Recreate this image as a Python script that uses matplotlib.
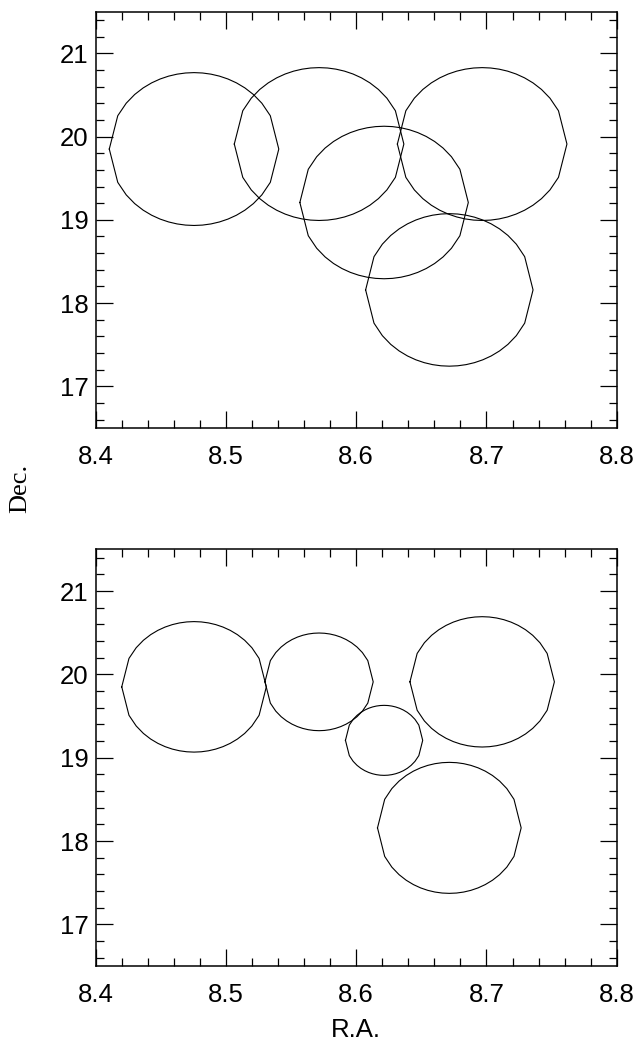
import numpy as np
import matplotlib
matplotlib.use('Agg')
import matplotlib.pyplot as plt
from matplotlib.ticker import MultipleLocator

plt.rcParams['font.family'] = ['Liberation Sans', 'DejaVu Sans']

# field centres (R.A. in hours, Dec. in degrees)
ra_c = [8.4755, 8.5715, 8.6967, 8.6214, 8.6715]
dec_c = [19.85, 19.91, 19.91, 19.208, 18.158]

# circle radii in degrees
r_top = [0.918, 0.918, 0.918, 0.916, 0.916]
r_bot = [0.783, 0.586, 0.782, 0.420, 0.786]

xticks = [8.4, 8.5, 8.6, 8.7, 8.8]
yticks = [17, 18, 19, 20, 21]


def circle(ra0, dec0, r, n=21):
    # sampled evenly along R.A., like the original
    u = np.linspace(-1, 1, n)
    h = np.sqrt(np.clip(1 - u**2, 0, None))
    dx = r / (15 * np.cos(np.radians(dec0)))
    x = np.concatenate([ra0 + u * dx, ra0 + u[::-1] * dx])
    y = np.concatenate([dec0 + r * h, dec0 - r * h[::-1]])
    return x, y


def setup(ax):
    ax.set_xlim(8.4, 8.8)
    ax.set_ylim(16.5, 21.5)
    ax.set_xticks(xticks)
    ax.set_xticklabels([f'{t:.1f}' for t in xticks])
    ax.set_yticks(yticks)
    ax.xaxis.set_minor_locator(MultipleLocator(0.02))
    ax.yaxis.set_minor_locator(MultipleLocator(0.2))
    ax.tick_params(which='both', direction='in', top=True, right=True, width=0.9)
    ax.tick_params(which='major', length=12.5, labelsize=18.5)
    ax.tick_params(which='minor', length=6)
    ax.tick_params(axis='x', pad=12)
    ax.tick_params(axis='y', pad=5)
    for s in ax.spines.values():
        s.set_linewidth(1.1)


fig = plt.figure(figsize=(6.35, 10.42), dpi=100)
ax1 = fig.add_axes([0.1507, 0.5893, 0.8205, 0.3995])
ax2 = fig.add_axes([0.1507, 0.0729, 0.8205, 0.3999])

for ax, radii in [(ax1, r_top), (ax2, r_bot)]:
    for ra0, dec0, r in zip(ra_c, dec_c, radii):
        x, y = circle(ra0, dec0, r)
        ax.plot(x, y, color='black', lw=0.8)
    setup(ax)

fig.text(0.032, 0.531, 'Dec.', rotation=90, ha='center', va='center',
         fontsize=19, family=['Liberation Serif', 'DejaVu Serif'])
ax2.set_xlabel('R.A.', fontsize=18.5, labelpad=8)

fig.savefig('out.png', dpi=100)
